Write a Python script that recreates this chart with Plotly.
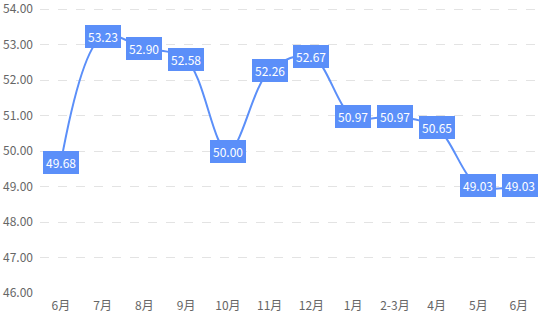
import plotly.graph_objects as go

categories = ["6月", "7月", "8月", "9月", "10月", "11月", "12月", "1月", "2-3月", "4月", "5月", "6月 "]
values = [49.68, 53.23, 52.90, 52.58, 50.00, 52.26, 52.67, 50.97, 50.97, 50.65, 49.03, 49.03]
tick_vals = [46, 47, 48, 49, 50, 51, 52, 53, 54]

color = "#5B8FF9"
font_family = "Noto Sans CJK SC, Noto Sans, sans-serif"

fig = go.Figure()
fig.add_trace(go.Scatter(
    x=categories, y=values, mode="lines",
    line=dict(color=color, width=2, shape="spline", smoothing=1.0),
    hoverinfo="skip",
))

for c, v in zip(categories, values):
    fig.add_annotation(
        x=c, y=v, text=f"{v:.2f}", showarrow=False,
        bgcolor=color, bordercolor=color, borderwidth=2, borderpad=1,
        font=dict(color="white", size=12, family=font_family),
        xanchor="center", yanchor="middle",
    )

fig.update_layout(
    width=552, height=316,
    margin=dict(l=40, r=11, t=8, b=23, autoexpand=False),
    paper_bgcolor="white", plot_bgcolor="white",
    showlegend=False,
    font=dict(family=font_family, size=12, color="#666666"),
    xaxis=dict(
        type="category", range=[-0.5, 11.5], automargin=False,
        showgrid=False, zeroline=False, showline=False,
        ticks="", tickfont=dict(size=12, color="#666666"),
        ticklabelstandoff=4,
    ),
    yaxis=dict(
        range=[46, 54.03], tickvals=tick_vals, tickformat=".2f",
        automargin=False,
        showgrid=True, gridcolor="#e3e3e3", griddash="dash", gridwidth=1,
        zeroline=False, showline=False, ticks="",
        tickfont=dict(size=12, color="#666666"),
        ticklabelstandoff=6, ticklabeloverflow="allow",
    ),
)

fig.write_html("out.html")
